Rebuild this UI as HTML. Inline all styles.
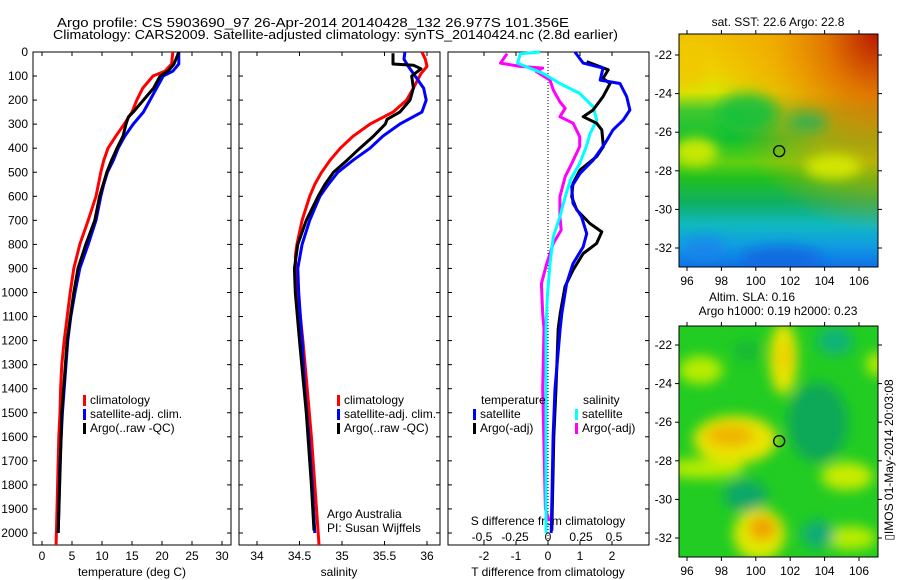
<!DOCTYPE html>
<html><head><meta charset="utf-8"><style>
body{margin:0;background:#fff;width:900px;height:580px;overflow:hidden}
svg{display:block;font-family:"Liberation Sans",sans-serif;font-size:12px}
</style></head><body>
<svg id="fig" width="900" height="580" viewBox="0 0 900 580">
<text x="57" y="27" textLength="512" lengthAdjust="spacingAndGlyphs" font-size="13">Argo profile: CS 5903690_97 26-Apr-2014 20140428_132 26.977S 101.356E</text>
<text x="53" y="39" textLength="565" lengthAdjust="spacingAndGlyphs" font-size="13">Climatology: CARS2009. Satellite-adjusted climatology: synTS_20140424.nc (2.8d earlier)</text>
<defs>
<linearGradient id="sstg" x1="0" y1="0" x2="0" y2="1">
<stop offset="0" stop-color="#f0c000"/><stop offset="0.15" stop-color="#f0d000"/><stop offset="0.25" stop-color="#d8e400"/>
<stop offset="0.33" stop-color="#40c830"/><stop offset="0.45" stop-color="#10c030"/><stop offset="0.55" stop-color="#60d010"/>
<stop offset="0.62" stop-color="#20c020"/><stop offset="0.72" stop-color="#10b060"/><stop offset="0.82" stop-color="#10b8c0"/>
<stop offset="0.9" stop-color="#10a0e0"/><stop offset="1" stop-color="#1070e8"/></linearGradient>
<radialGradient id="hot" cx="1" cy="0" r="0.85"><stop offset="0" stop-color="#b81800"/><stop offset="0.3" stop-color="#e07000" stop-opacity="0.95"/><stop offset="0.65" stop-color="#f0a000" stop-opacity="0.6"/><stop offset="1" stop-color="#f0a000" stop-opacity="0"/></radialGradient>
<filter id="blur" x="-50%" y="-50%" width="200%" height="200%"><feGaussianBlur stdDeviation="6"/></filter>
<clipPath id="c1"><rect x="679" y="34" width="199" height="233"/></clipPath>
<clipPath id="c2"><rect x="679" y="326" width="199" height="231"/></clipPath>
</defs>
<g id="plots"></g>
<g id="maps"></g>
<text transform="translate(893,460) rotate(-90)" text-anchor="middle" font-size="12">▯IMOS 01-May-2014 20:03:08</text>
</svg>
<script>
const NS="http://www.w3.org/2000/svg";
const plots=document.getElementById('plots');
const maps=document.getElementById('maps');
function mk(tag,attrs,parent){const e=document.createElementNS(NS,tag);for(const k in attrs)e.setAttribute(k,attrs[k]);(parent||plots).appendChild(e);return e;}

// ---- data ----
const depthTicks=[0,100,200,300,400,500,600,700,800,900,1000,1100,1200,1300,1400,1500,1600,1700,1800,1900,2000];
const tempTicks=[0,5,10,15,20,25,30];
const salTicks=[34,34.5,35,35.5,36];
const tdTicks=[-2,-1,0,1,2];
const sdTicks=[-0.5,-0.25,0,0.25,0.5];
const sdTickLabels=["-0.5","-0.25","0","0.25","0.5"];

const tClimDepth=[0,50,80,100,150,200,250,300,350,400,450,500,600,700,800,900,1000,1100,1200,1300,1400,1500,1600,1700,1800,1900,2000,2050];
const tClim=[21.8,21.6,20.5,18.5,16.8,15.8,15.0,13.7,12.3,11.0,10.3,9.8,9.0,7.7,6.3,5.3,4.7,4.2,3.7,3.3,3.1,3.0,2.8,2.7,2.6,2.5,2.4,2.35];
const tSatDepth=[0,50,80,100,150,200,250,300,350,400,450,500,550,600,700,800,900,1000,1100,1200,1300,1400,1500,1600,1700,1800,1900,2000];
const tSat=[22.8,22.8,21.8,20.2,19.1,18.0,16.9,15.2,13.8,12.7,11.9,10.9,10.3,9.8,9.0,7.7,6.3,5.5,4.8,4.3,4.0,3.7,3.4,3.2,3.0,2.9,2.8,2.7];
const tArgoDepth=[0,50,80,100,150,200,250,270,300,350,400,450,500,600,700,800,900,1000,1200,1500,2000];
const tArgo=[22.8,22.0,21.0,19.7,18.6,16.9,15.2,14.4,14.0,13.5,12.5,11.6,10.8,9.6,8.8,7.3,6.0,5.3,4.2,3.3,2.7];

const sClimDepth=[0,30,60,90,150,200,250,300,350,400,450,500,550,600,700,800,850,900,1000,1200,1400,1600,1800,2000,2050];
const sClim=[35.94,35.98,36.0,35.93,35.84,35.76,35.6,35.33,35.13,34.98,34.86,34.76,34.68,34.62,34.53,34.47,34.45,34.46,34.48,34.54,34.59,34.64,34.68,34.72,34.73];
const sSatDepth=[0,30,60,100,150,200,250,300,350,400,450,500,550,600,700,800,900,1000,1200,1400,1600,1800,2000];
const sSat=[35.74,35.73,35.78,35.86,35.96,35.99,35.94,35.68,35.48,35.33,35.13,34.95,34.84,34.74,34.62,34.53,34.48,34.49,34.53,34.56,34.61,34.65,34.68];
const sArgoDepth=[5,50,55,70,100,150,200,250,280,300,350,400,450,500,550,600,700,800,900,1000,1200,1500,1800,1990];
const sArgo=[35.6,35.6,35.84,35.93,35.82,35.84,35.8,35.68,35.53,35.51,35.37,35.21,35.06,34.9,34.8,34.72,34.58,34.48,34.44,34.45,34.5,34.58,34.64,34.67];

const tdSatDepth=[0,46,67,117,131,186,241,283,324,380,450,505,560,630,686,755,810,880,963,1088,1150,1400,1600,1800,2000];
const tdSat=[0.84,1.10,1.72,1.63,2.25,2.46,2.56,2.35,2.03,1.78,1.41,1.0,0.74,0.78,1.05,1.21,1.1,0.78,0.58,0.43,0.38,0.22,0.16,0.13,0.1];
const tdArgoDepth=[40,74,110,131,186,241,269,296,324,393,435,491,546,602,657,713,748,796,838,907,976,1088,1150,1400,1600,1800,1990];
const tdArgo=[1.21,1.88,1.72,1.94,1.72,1.41,1.1,1.52,1.68,1.73,1.52,1.0,0.78,0.74,0.9,1.31,1.68,1.52,1.1,0.78,0.53,0.38,0.32,0.25,0.18,0.15,0.12];
const sdSatDepth=[0,7,46,67,88,131,172,227,283,338,393,463,532,602,685,768,880,1019,1150,1500,2000];
const sdSat=[-0.06,-0.21,-0.23,-0.14,-0.04,0.09,0.24,0.34,0.37,0.32,0.29,0.24,0.17,0.13,0.09,0.04,0.015,-0.005,-0.015,-0.015,-0.015];
const sdArgoDepth=[7,46,60,67,81,117,158,207,234,269,296,352,393,463,518,602,685,740,796,880,963,1088,1150,1400,1900,1950];
const sdArgo=[-0.31,-0.36,-0.21,-0.04,-0.09,0.015,0.04,0.09,0.13,0.09,0.19,0.24,0.24,0.18,0.13,0.09,0.09,0.1,0.04,-0.01,-0.05,-0.04,-0.03,-0.04,-0.02,0.01];

// ---- axes ----
const yTop=52, yPer=0.2405, panelTop=52, panelBot=545;
function yD(d){return yTop+d*yPer;}
const xT=v=>42+v*6, xS=v=>257+(v-34)*85, xTD=v=>548+v*32, xSD=v=>548+v*132;

function frame(x0,x1,name){
  mk('rect',{x:x0,y:panelTop,width:x1-x0,height:panelBot-panelTop,fill:'none',stroke:'#000','stroke-width':1,});
  depthTicks.forEach(d=>{const y=yD(d);mk('line',{x1:x0,x2:x0+4,y1:y,y2:y,stroke:'#000'});mk('line',{x1:x1,x2:x1-4,y1:y,y2:y,stroke:'#000'});});
}
frame(33,231,'temperature-panel');frame(239,440,'salinity-panel');frame(448,649,'difference-panel');
depthTicks.forEach(d=>{const t=mk('text',{x:28,y:yD(d)+4,'text-anchor':'end'});t.textContent=d;

});
function xTicks(ticks,f,labels,y,name,inside){ticks.forEach((v,i)=>{const x=f(v);
  if(inside){mk('line',{x1:x,x2:x,y1:panelBot,y2:panelBot-4,stroke:'#000'});mk('line',{x1:x,x2:x,y1:panelTop,y2:panelTop+4,stroke:'#000'});}
  const t=mk('text',{x:x,y:y,'text-anchor':'middle'});t.textContent=labels?labels[i]:v;
  
  });}
xTicks(tempTicks,xT,null,560,'temperature-tick-label',true);
xTicks(salTicks,xS,null,560,'salinity-tick-label',true);
xTicks(tdTicks,xTD,null,560,'t-diff-tick-label',true);
xTicks(sdTicks,xSD,sdTickLabels,541,'s-diff-tick-label',false);
function label(x,y,s,name,anchor){const t=mk('text',{x:x,y:y,'text-anchor':anchor||'middle'});t.textContent=s;

return t;}
label(132,576,'temperature (deg C)','x-axis-title-temperature');
label(339,576,'salinity','x-axis-title-salinity');
label(548,576,'T difference from climatology','x-axis-title-t-diff');
label(548,525,'S difference from climatology','s-diff-axis-title');
mk('line',{x1:548,x2:548,y1:panelTop,y2:panelBot,stroke:'#000','stroke-dasharray':'1,2','stroke-width':1});

function series(depths,vals,fx,color,name){
  let d='';depths.forEach((dp,i)=>{d+=(i?'L':'M')+fx(vals[i]).toFixed(1)+','+yD(dp).toFixed(1);});
  const p=mk('path',{d:d,fill:'none',stroke:color,'stroke-width':3,'stroke-linejoin':'round'});
  
  
}
series(tClimDepth,tClim,xT,'#f00','temp-climatology-line');
series(tSatDepth,tSat,xT,'#00f','temp-satellite-line');
series(tArgoDepth,tArgo,xT,'#000','temp-argo-line');
series(sClimDepth,sClim,xS,'#f00','sal-climatology-line');
series(sSatDepth,sSat,xS,'#00f','sal-satellite-line');
series(sArgoDepth,sArgo,xS,'#000','sal-argo-line');
series(sdArgoDepth,sdArgo,xSD,'#f0f','sdiff-argo-line');
series(sdSatDepth,sdSat,xSD,'#0ff','sdiff-satellite-line');
series(tdArgoDepth,tdArgo,xTD,'#000','tdiff-argo-line');
series(tdSatDepth,tdSat,xTD,'#00f','tdiff-satellite-line');

function legend(x,y,color,txt,name){
  const r=mk('rect',{x:x,y:y-9,width:3,height:11,fill:color});
  
  
  label(x+7,y,txt,name,'start');
}
legend(83,404,'#f00','climatology','legend-temp-climatology');
legend(83,418,'#00f','satellite-adj. clim.','legend-temp-satellite');
legend(83,432,'#000','Argo(..raw -QC)','legend-temp-argo');
legend(337,404,'#f00','climatology','legend-sal-climatology');
legend(337,418,'#00f','satellite-adj. clim.','legend-sal-satellite');
legend(337,432,'#000','Argo(..raw -QC)','legend-sal-argo');
label(481,404,'temperature','legend-title-temperature','start');
legend(473,418,'#00f','satellite','legend-tdiff-satellite');
legend(473,432,'#000','Argo(-adj)','legend-tdiff-argo');
label(583,404,'salinity','legend-title-salinity','start');
legend(575,418,'#0ff','satellite','legend-sdiff-satellite');
legend(575,432,'#f0f','Argo(-adj)','legend-sdiff-argo');
label(327,518,'Argo Australia','credit-argo-australia','start');
label(327,532,'PI: Susan Wijffels','credit-pi','start');

// ---- maps ----
const lonTicks=[96,98,100,102,104,106];
const latTicks=[-22,-24,-26,-28,-30,-32];
const argoLon=101.36, argoLat=-26.98;
const xL=lon=>687+(lon-96)*17.2;
function mapAxes(top,lat0y,bot,name){
  const yL=lat=>lat0y+(-22-lat)*19.3;
  mk('rect',{x:679,y:top,width:199,height:bot-top,fill:'none',stroke:'#000',},maps);
  lonTicks.forEach(v=>{const x=xL(v);mk('line',{x1:x,x2:x,y1:bot,y2:bot+4,stroke:'#000'},maps);mk('line',{x1:x,x2:x,y1:top,y2:top-4,stroke:'#000'},maps);
    const t=mk('text',{x:x,y:bot+18,'text-anchor':'middle'},maps);t.textContent=v;
    
    });
  latTicks.forEach(v=>{const y=yL(v);mk('line',{x1:679,x2:675,y1:y,y2:y,stroke:'#000'},maps);mk('line',{x1:878,x2:882,y1:y,y2:y,stroke:'#000'},maps);
    const t=mk('text',{x:672,y:y+4,'text-anchor':'end'},maps);t.textContent=v;
    
    });
  const c=mk('circle',{cx:xL(argoLon),cy:yL(argoLat),r:5.5,fill:'none',stroke:'#000','stroke-width':1.3},maps);
  
  
  return yL;
}
const y1=lat=>55+(-22-lat)*19.3, y2=lat=>345+(-22-lat)*19.3;
// SST map
const g1=mk('g',{'clip-path':'url(#c1)',},maps);
mk('rect',{x:679,y:34,width:199,height:233,fill:'url(#sstg)'},g1);
mk('rect',{x:679,y:34,width:199,height:233,fill:'url(#hot)'},g1);
const gb=mk('g',{filter:'url(#blur)'},g1);
[[96.5,-27,22,14,'#d8ec00',0.9],[104.5,-27.8,28,12,'#d8ec00',0.9],[96,-22.5,20,25,'#f0c800',0.7],
 [99.5,-25,30,20,'#10c040',0.8],[103,-25.5,20,10,'#10b060',0.7],[101.5,-32.5,40,12,'#1060e0',0.7],[97,-32,20,12,'#2080f0',0.7]].forEach(b=>{
 mk('ellipse',{cx:xL(b[0]),cy:y1(b[1]),rx:b[2],ry:b[3],fill:b[4],opacity:b[5]},gb);});
mapAxes(34,55,267,'sst-map');
label(778,26,'sat. SST: 22.6  Argo: 22.8','sst-map-title');
// SLA map
const g2=mk('g',{'clip-path':'url(#c2)',},maps);
mk('rect',{x:679,y:326,width:199,height:231,fill:'#22cc22'},g2);
const gb2=mk('g',{filter:'url(#blur)'},g2);
[[96.8,-23.3,22,14,'#b8ec00'],[97,-28.4,40,10,'#b8ec00'],[105.3,-28.8,26,14,'#c8ec00'],[105.5,-32,26,12,'#b8ec00'],
 [98.8,-26.9,42,24,'#e8e400'],[101.6,-22.7,14,36,'#e8e400'],[100.2,-31.8,26,26,'#e0e800'],[107,-23,10,12,'#b8ec00']].forEach(b=>{
 mk('ellipse',{cx:xL(b[0]),cy:y2(b[1]),rx:b[2],ry:b[3],fill:b[4]},gb2);});
[[98.5,-26.7,24,11,'#f0b400'],[100.4,-31.5,14,12,'#f0a000'],[101.7,-22.6,8,14,'#f0d000']].forEach(b=>{
 mk('ellipse',{cx:xL(b[0]),cy:y2(b[1]),rx:b[2],ry:b[3],fill:b[4]},gb2);});
[[103.6,-26,30,40,'#10a858'],[99.4,-29.8,22,16,'#10a868'],[104.6,-21.8,18,14,'#10b478'],[103.6,-31.8,16,14,'#10ac78'],[99.5,-22.3,14,10,'#18b838']].forEach(b=>{
 mk('ellipse',{cx:xL(b[0]),cy:y2(b[1]),rx:b[2],ry:b[3],fill:b[4]},gb2);});
mapAxes(326,345,557,'sla-map');
label(752,301,'Altim. SLA: 0.16','sla-map-title-line-1');
label(778,315,'Argo h1000: 0.19 h2000: 0.23','sla-map-title-line-2');
</script>
</body></html>
